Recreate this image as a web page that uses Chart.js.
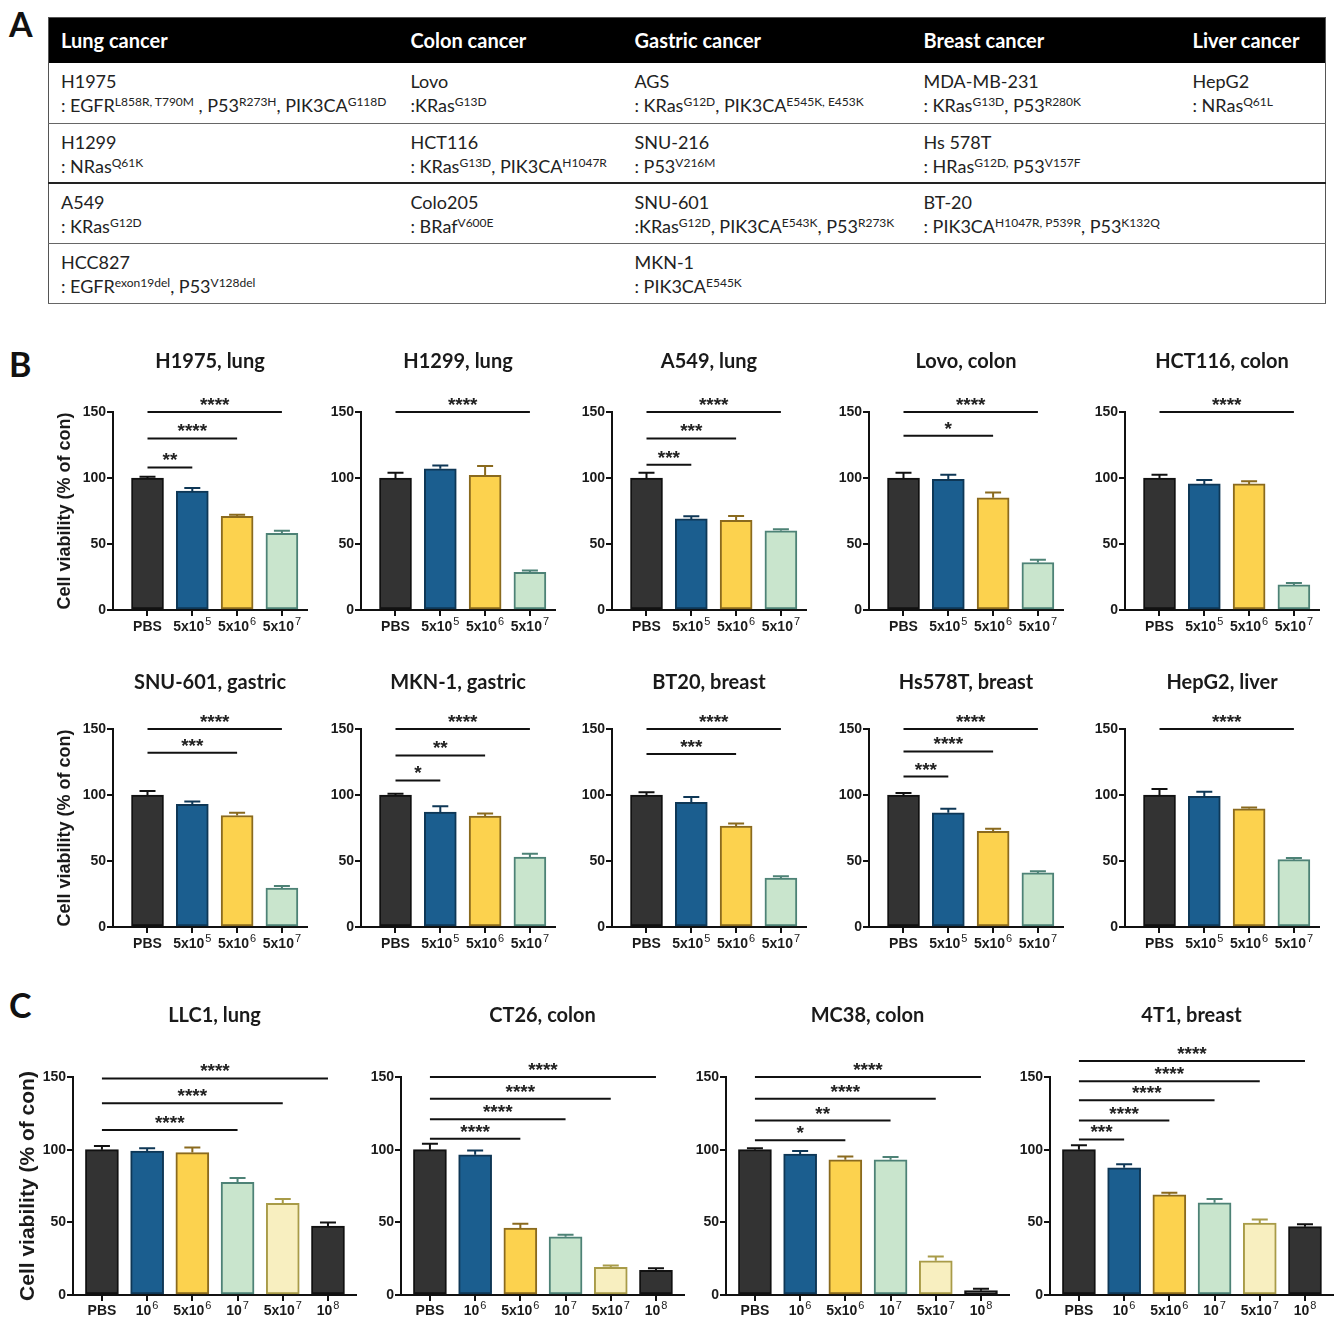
<!DOCTYPE html>
<html>
<head>
<meta charset="utf-8">
<script src="https://cdn.jsdelivr.net/npm/chart.js@4.4.1/dist/chart.umd.min.js"></script>
<style>
  html, body { margin: 0; padding: 0; background: #fff; }
  #page { position: relative; width: 1339px; height: 1320px; overflow: hidden; }
  .letter { position: absolute; font-family: Lato, sans-serif; font-weight: 700; font-size: 34px; line-height: 34px; color: #111; }
  canvas { position: absolute; }
  table { position: absolute; left: 48px; top: 17px; width: 1277px; border-collapse: collapse; table-layout: fixed;
          font-family: Lato, sans-serif; color: #222; border: 1.5px solid #555; }
  th { background: #000; color: #fff; font-weight: 700; font-size: 20px; text-align: left; height: 43px; padding: 0 0 2px 12px; }
  tr.row { height: 60px; }
  td { font-size: 18px; line-height: 24px; padding: 6px 0 0 12px; vertical-align: top; border-bottom: 1px solid #666; white-space: nowrap; }
  tr.thick td { border-bottom: 2px solid #222; }
  sup { font-size: 12px; vertical-align: 0.5em; line-height: 0; }
</style>
</head>
<body>
<div id="page">
  <div class="letter" style="left:9px; top:7px;">A</div>
  <div class="letter" style="left:9px; top:347px;">B</div>
  <div class="letter" style="left:9px; top:988px;">C</div>
  <table id="tbl"></table>
</div>
<script>
'use strict';

// ---- Panel A: cell lines and mutations ----
const TABLE_HEAD = ['Lung cancer', 'Colon cancer', 'Gastric cancer', 'Breast cancer', 'Liver cancer'];
const TABLE_ROW1 = ['H1975<br>: EGFR<sup>L858R, T790M</sup> , P53<sup>R273H</sup>, PIK3CA<sup>G118D</sup>', 'Lovo<br>:KRas<sup>G13D</sup>',
  'AGS<br>: KRas<sup>G12D</sup>, PIK3CA<sup>E545K, E453K</sup>', 'MDA-MB-231<br>: KRas<sup>G13D</sup>, P53<sup>R280K</sup>', 'HepG2<br>: NRas<sup>Q61L</sup>'];
const TABLE_ROW2 = ['H1299<br>: NRas<sup>Q61K</sup>', 'HCT116<br>: KRas<sup>G13D</sup>, PIK3CA<sup>H1047R</sup>',
  'SNU-216<br>: P53<sup>V216M</sup>', 'Hs 578T<br>: HRas<sup>G12D,</sup> P53<sup>V157F</sup>', ''];
const TABLE_ROW3 = ['A549<br>: KRas<sup>G12D</sup>', 'Colo205<br>: BRaf<sup>V600E</sup>',
  'SNU-601<br>:KRas<sup>G12D</sup>, PIK3CA<sup>E543K</sup>, P53<sup>R273K</sup>', 'BT-20<br>: PIK3CA<sup>H1047R, P539R</sup>, P53<sup>K132Q</sup>', ''];
const TABLE_ROW4 = ['HCC827<br>: EGFR<sup>exon19del</sup>, P53<sup>V128del</sup>', '', 'MKN-1<br>: PIK3CA<sup>E545K</sup>', '', ''];
const COL_WIDTHS = [350, 224, 289, 269, 145];

// ---- Panel B: human cell lines ----
const B_LABELS = ['PBS', '5x10^5', '5x10^6', '5x10^7'];

const H1975_MEAN = [100, 90, 71, 58];
const H1975_SEM  = [1, 2.5, 1.2, 2];
const H1975_SIG  = [[3, 150, '****'], [2, 130, '****'], [1, 108, '**']];

const H1299_MEAN = [100, 107, 102, 28.5];
const H1299_SEM  = [4, 2.5, 7, 1.5];
const H1299_SIG  = [[3, 150, '****']];

const A549_MEAN = [100, 69, 68, 60];
const A549_SEM  = [4, 2, 3.3, 1.2];
const A549_SIG  = [[3, 150, '****'], [2, 130, '***'], [1, 110, '***']];

const LOVO_MEAN = [100, 99, 85, 36];
const LOVO_SEM  = [4, 3.5, 4, 2];
const LOVO_SIG  = [[3, 150, '****'], [2, 132, '*']];

const HCT116_MEAN = [100, 95.5, 95.5, 19];
const HCT116_SEM  = [2.5, 3, 2, 1.5];
const HCT116_SIG  = [[3, 150, '****']];

const SNU601_MEAN = [100, 93, 84.5, 29.5];
const SNU601_SEM  = [3, 2, 2, 1.5];
const SNU601_SIG  = [[3, 150, '****'], [2, 132, '***']];

const MKN1_MEAN = [100, 87, 84, 53];
const MKN1_SEM  = [1, 4.5, 2, 2.5];
const MKN1_SIG  = [[3, 150, '****'], [2, 130, '**'], [1, 111, '*']];

const BT20_MEAN = [100, 94.5, 76.5, 37];
const BT20_SEM  = [2, 4, 2, 1.5];
const BT20_SIG  = [[3, 150, '****'], [2, 131, '***']];

const HS578T_MEAN = [100, 86.5, 72.5, 41];
const HS578T_SEM  = [1.5, 3, 2, 1.3];
const HS578T_SIG  = [[3, 150, '****'], [2, 133, '****'], [1, 114, '***']];

const HEPG2_MEAN = [100, 99, 89.5, 51];
const HEPG2_SEM  = [4.5, 3.5, 1, 1.3];
const HEPG2_SIG  = [[3, 150, '****']];

// ---- Panel C: mouse cell lines ----
const C_LABELS = ['PBS', '10^6', '5x10^6', '10^7', '5x10^7', '10^8'];

const LLC1_MEAN = [100, 99, 98, 77.5, 63, 47.5];
const LLC1_SEM  = [2.5, 2, 3.5, 3, 3, 2.3];
const LLC1_SIG  = [[5, 149, '****'], [4, 132, '****'], [3, 113.5, '****']];

const CT26_MEAN = [100, 96.5, 46, 40, 19, 17];
const CT26_SEM  = [4, 3, 3, 1.5, 1.3, 1.4];
const CT26_SIG  = [[5, 150, '****'], [4, 135, '****'], [3, 121, '****'], [2, 107.5, '****']];

const MC38_MEAN = [100, 97, 93, 93, 23.5, 3];
const MC38_SEM  = [1, 2, 2.3, 2, 3, 1.3];
const MC38_SIG  = [[5, 150, '****'], [4, 135, '****'], [3, 120, '**'], [2, 106.5, '*']];

const T41_MEAN = [100, 87.5, 69, 63.5, 49.5, 47];
const T41_SEM  = [3, 2.5, 1.3, 2.5, 2.5, 1.6];
const T41_SIG  = [[5, 161, '****'], [4, 147, '****'], [3, 134, '****'], [2, 120, '****'], [1, 107, '***']];

// colours per group
const FILL   = { pbs: '#333333', blue: '#1b5e8f', yellow: '#fcd24e', green: '#c9e5cd', lemon: '#f8efc0' };
const STROKE = { pbs: '#111111', blue: '#0e3756', yellow: '#8a6a1e', green: '#4d8276', lemon: '#a89b48' };
const B_GROUPS = ['pbs', 'blue', 'yellow', 'green'];
const C_GROUPS = ['pbs', 'blue', 'yellow', 'green', 'lemon', 'pbs'];

// ---- build table ----
(function buildTable() {
  const t = document.getElementById('tbl');
  let html = '<colgroup>' + COL_WIDTHS.map(w => `<col style="width:${w}px">`).join('') + '</colgroup>';
  html += '<tr>' + TABLE_HEAD.map(h => `<th>${h}</th>`).join('') + '</tr>';
  [TABLE_ROW1, TABLE_ROW2, TABLE_ROW3, TABLE_ROW4].forEach((r, i) => {
    html += `<tr class="row${i === 1 ? ' thick' : ''}">` + r.map(c => `<td>${c}</td>`).join('') + '</tr>';
  });
  t.innerHTML = html;
})();

// ---- chart helpers ----
const ARIAL = '"Liberation Sans", Arial, sans-serif';
const TICK_FONT = { family: ARIAL, weight: 'bold', size: 14 };
const page = document.getElementById('page');

// x labels like 5x10^6 drawn with a real superscript
function drawLabel(ctx, text, cx, baseY) {
  const [base, exp] = text.split('^');
  ctx.font = `bold 14px ${ARIAL}`;
  const wb = ctx.measureText(base).width;
  let we = 0;
  if (exp) { ctx.font = `11px ${ARIAL}`; we = ctx.measureText(exp).width + 1; }
  const x0 = cx - (wb + we) / 2;
  ctx.textAlign = 'left';
  ctx.font = `bold 14px ${ARIAL}`;
  ctx.fillText(base, x0, baseY);
  if (exp) {
    ctx.font = `11px ${ARIAL}`;
    ctx.fillText(exp, x0 + wb + 1, baseY - 6);
  }
}

function makePanel(p) {
  const canvas = document.createElement('canvas');
  canvas.width = p.w;
  canvas.height = p.h;
  canvas.style.left = p.left + 'px';
  canvas.style.top = p.top + 'px';
  page.appendChild(canvas);

  const n = p.labels.length;
  const decorations = {
    id: 'decor',
    afterDatasetsDraw(chart) {
      const { ctx, scales: { y } } = chart;
      const meta = chart.getDatasetMeta(0);
      ctx.save();
      ctx.lineWidth = 2;
      meta.data.forEach((bar, i) => {
        const top = y.getPixelForValue(p.mean[i] + p.sem[i]);
        ctx.strokeStyle = STROKE[p.groups[i]];
        ctx.beginPath();
        ctx.moveTo(bar.x, bar.y);
        ctx.lineTo(bar.x, top);
        ctx.moveTo(bar.x - 8, top);
        ctx.lineTo(bar.x + 8, top);
        ctx.stroke();
      });
      ctx.restore();
    },
    afterDraw(chart) {
      const { ctx, chartArea: a, scales: { x, y } } = chart;
      ctx.save();
      // significance brackets
      ctx.strokeStyle = '#111';
      ctx.fillStyle = '#222';
      ctx.lineWidth = 2;
      ctx.font = `bold 19px ${ARIAL}`;
      ctx.textAlign = 'center';
      ctx.textBaseline = 'alphabetic';
      const x0 = x.getPixelForValue(0);
      p.sig.forEach(([to, level, label]) => {
        const x1 = x.getPixelForValue(to);
        const yy = y.getPixelForValue(level);
        ctx.beginPath();
        ctx.moveTo(x0, yy);
        ctx.lineTo(x1, yy);
        ctx.stroke();
        ctx.fillText(label, (x0 + x1) / 2, yy - 1);
      });
      // category labels
      ctx.fillStyle = '#1a1a1a';
      p.labels.forEach((lab, i) => drawLabel(ctx, lab, x.getPixelForValue(i), a.bottom + p.labelDrop));
      // panel title
      ctx.textAlign = 'center';
      ctx.font = 'bold 20px Lato, sans-serif';
      ctx.textBaseline = 'middle';
      ctx.fillText(p.title, (a.left + a.right) / 2, a.top - p.titleGap);
      // y axis title
      if (p.yTitle) {
        ctx.translate(a.left - p.yTitleGap, (a.top + a.bottom) / 2);
        ctx.rotate(-Math.PI / 2);
        ctx.font = `bold ${p.yTitleSize}px ${ARIAL}`;
        ctx.fillText('Cell viability (% of con)', 0, 0);
      }
      ctx.restore();
    },
  };

  new Chart(canvas.getContext('2d'), {
    type: 'bar',
    data: {
      datasets: [{
        data: p.mean.map((v, i) => ({ x: i, y: v })),
        backgroundColor: p.groups.map(g => FILL[g]),
        borderColor: p.groups.map(g => STROKE[g]),
        borderWidth: 2,
        borderSkipped: false,
        barThickness: p.barW,
      }],
    },
    options: {
      responsive: false,
      animation: false,
      events: [],
      layout: { padding: { left: 0, top: p.padTop, right: p.padRight, bottom: 0 } },
      plugins: { legend: { display: false }, tooltip: { enabled: false }, title: { display: false } },
      scales: {
        x: {
          type: 'linear',
          offset: false,
          min: p.xMin,
          max: n - 1 + p.xMaxGap,
          afterBuildTicks: s => { s.ticks = p.labels.map((_, i) => ({ value: i })); },
          afterFit: s => { s.height = p.xAxisH; },
          ticks: { callback: () => '', autoSkip: false, maxRotation: 0 },
          grid: { offset: false, drawOnChartArea: false, drawTicks: true, tickLength: 6, color: '#111', lineWidth: 2 },
          border: { display: true, color: '#111', width: 2 },
        },
        y: {
          min: 0,
          max: 150,
          afterFit: s => { s.width = 90; },
          ticks: { stepSize: 50, font: TICK_FONT, color: '#1a1a1a', padding: 1 },
          grid: { drawOnChartArea: false, drawTicks: true, tickLength: 6, color: '#111', lineWidth: 2 },
          border: { display: true, color: '#111', width: 2 },
        },
      },
    },
    plugins: [decorations],
  });
}

// ---- panel B layout ----
const B_AXIS_X = [113, 361, 612, 869, 1125];
const B_ROW1 = [
  ['H1975, lung', H1975_MEAN, H1975_SEM, H1975_SIG],
  ['H1299, lung', H1299_MEAN, H1299_SEM, H1299_SIG],
  ['A549, lung', A549_MEAN, A549_SEM, A549_SIG],
  ['Lovo, colon', LOVO_MEAN, LOVO_SEM, LOVO_SIG],
  ['HCT116, colon', HCT116_MEAN, HCT116_SEM, HCT116_SIG],
];
const B_ROW2 = [
  ['SNU-601, gastric', SNU601_MEAN, SNU601_SEM, SNU601_SIG],
  ['MKN-1, gastric', MKN1_MEAN, MKN1_SEM, MKN1_SIG],
  ['BT20, breast', BT20_MEAN, BT20_SEM, BT20_SIG],
  ['Hs578T, breast', HS578T_MEAN, HS578T_SEM, HS578T_SIG],
  ['HepG2, liver', HEPG2_MEAN, HEPG2_SEM, HEPG2_SIG],
];

[[B_ROW1, 340, 72, 50], [B_ROW2, 660, 69, 46]].forEach(([row, top, padTop, titleGap]) => {
  row.forEach(([title, mean, sem, sig], i) => {
    makePanel({
      title, mean, sem, sig, labels: B_LABELS, groups: B_GROUPS,
      left: B_AXIS_X[i] - 90, top, w: 296, h: padTop + 198 + 30,
      padTop, padRight: 12, xAxisH: 30, labelDrop: 21,
      xMin: -0.77, xMaxGap: 0.56, barW: 32,
      titleGap, yTitle: i === 0, yTitleGap: 48, yTitleSize: 18,
    });
  });
});

// ---- panel C layout ----
const C_AXIS_X = [73, 401, 726, 1050];
const C_ROW = [
  ['LLC1, lung', LLC1_MEAN, LLC1_SEM, LLC1_SIG],
  ['CT26, colon', CT26_MEAN, CT26_SEM, CT26_SIG],
  ['MC38, colon', MC38_MEAN, MC38_SEM, MC38_SIG],
  ['4T1, breast', T41_MEAN, T41_SEM, T41_SIG],
];
C_ROW.forEach(([title, mean, sem, sig], i) => {
  makePanel({
    title, mean, sem, sig, labels: C_LABELS, groups: C_GROUPS,
    left: C_AXIS_X[i] - 90, top: 990, w: 379, h: 87 + 218 + 25,
    padTop: 87, padRight: 6, xAxisH: 25, labelDrop: 20,
    xMin: -0.64, xMaxGap: 0.62, barW: 33,
    titleGap: 61, yTitle: i === 0, yTitleGap: 45, yTitleSize: 21,
  });
});
</script>
</body>
</html>
